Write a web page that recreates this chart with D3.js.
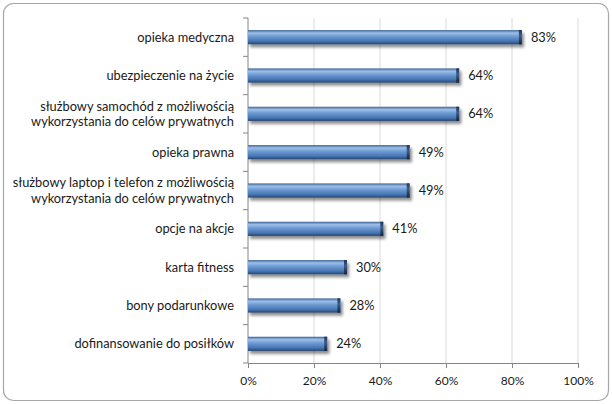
<!DOCTYPE html>
<html>
<head>
<meta charset="utf-8">
<script src="https://cdn.jsdelivr.net/npm/d3@7"></script>
<style>
  body { margin: 0; background: #fff; }
  text { font-family: Lato, "Open Sans", sans-serif; fill: #1a1a1a; }
</style>
</head>
<body>
<div id="chart"></div>
<script>
// data
const categories = [
    ["opieka medyczna"],
    ["ubezpieczenie na życie"],
    ["służbowy samochód z możliwością", "wykorzystania do celów prywatnych"],
    ["opieka prawna"],
    ["służbowy laptop i telefon z możliwością", "wykorzystania do celów prywatnych"],
    ["opcje na akcje"],
    ["karta fitness"],
    ["bony podarunkowe"],
    ["dofinansowanie do posiłków"]
];
const values = [83, 64, 64, 49, 49, 41, 30, 28, 24];
const xTicks = [0, 20, 40, 60, 80, 100];

const W = 612, H = 404;
const margin = {top: 18, right: 34, bottom: 41, left: 248};
const width = W - margin.left - margin.right;
const height = H - margin.top - margin.bottom;

const svg = d3.select("#chart").append("svg")
    .attr("width", W)
    .attr("height", H);

// gradient + shadow for the bars
const defs = svg.append("defs");
const grad = defs.append("linearGradient")
    .attr("id", "barGrad")
    .attr("x1", 0).attr("y1", 0).attr("x2", 0).attr("y2", 1);
grad.append("stop").attr("offset", "0%").attr("stop-color", "#3b6497");
grad.append("stop").attr("offset", "20%").attr("stop-color", "#9dbfe8");
grad.append("stop").attr("offset", "45%").attr("stop-color", "#6d9ad3");
grad.append("stop").attr("offset", "80%").attr("stop-color", "#4473b0");
grad.append("stop").attr("offset", "100%").attr("stop-color", "#27446c");

const capGrad = defs.append("linearGradient")
    .attr("id", "capGrad")
    .attr("x1", 0).attr("y1", 0).attr("x2", 0).attr("y2", 1);
capGrad.append("stop").attr("offset", "0%").attr("stop-color", "#1f3552");
capGrad.append("stop").attr("offset", "40%").attr("stop-color", "#3b5e8c");
capGrad.append("stop").attr("offset", "100%").attr("stop-color", "#15263d");

const shadow = defs.append("filter")
    .attr("id", "shadow")
    .attr("x", "-10%").attr("y", "-50%")
    .attr("width", "130%").attr("height", "250%");
shadow.append("feGaussianBlur").attr("in", "SourceAlpha").attr("stdDeviation", 1.8);
shadow.append("feOffset").attr("dx", 2).attr("dy", 3).attr("result", "off");
shadow.append("feComponentTransfer")
    .append("feFuncA").attr("type", "linear").attr("slope", 0.45);
const merge = shadow.append("feMerge");
merge.append("feMergeNode");
merge.append("feMergeNode").attr("in", "SourceGraphic");

// outer rounded frame
svg.append("rect")
    .attr("x", 3.5).attr("y", 3.5)
    .attr("width", W - 7).attr("height", H - 7)
    .attr("rx", 10).attr("ry", 10)
    .attr("fill", "#fff")
    .attr("stroke", "#a6a6a6")
    .attr("stroke-width", 1.2);

const g = svg.append("g")
    .attr("transform", `translate(${margin.left},${margin.top})`);

// scales
const x = d3.scaleLinear().domain([0, 100]).range([0, width]);
const y = d3.scaleBand()
    .domain(d3.range(categories.length))
    .range([0, height])
    .paddingInner(0.63)
    .paddingOuter(0.315);

// gridlines
g.selectAll(".grid")
    .data(xTicks.slice(1))
    .enter().append("line")
    .attr("class", "grid")
    .attr("x1", d => x(d)).attr("x2", d => x(d))
    .attr("y1", 0).attr("y2", height)
    .attr("stroke", "#d9d9d9")
    .attr("stroke-width", 1);

// x axis
const xAxis = d3.axisBottom(x)
    .tickValues(xTicks)
    .tickFormat(d => d + "%")
    .tickSize(5)
    .tickPadding(8);

const xg = g.append("g")
    .attr("transform", `translate(0,${height})`)
    .call(xAxis);
xg.select(".domain").attr("stroke", "#868686");
xg.selectAll(".tick line").attr("stroke", "#868686");
xg.selectAll(".tick text")
    .style("font-size", "12px")
    .style("font-family", "Lato, sans-serif")
    .attr("fill", "#1a1a1a");

// y axis (category ticks between bands)
const step = height / categories.length;
g.append("line")
    .attr("x1", 0).attr("x2", 0)
    .attr("y1", 0).attr("y2", height)
    .attr("stroke", "#868686");
g.selectAll(".ytick")
    .data(d3.range(categories.length + 1))
    .enter().append("line")
    .attr("class", "ytick")
    .attr("x1", -5).attr("x2", 0)
    .attr("y1", d => d * step).attr("y2", d => d * step)
    .attr("stroke", "#868686");

// category labels
const labels = g.selectAll(".cat")
    .data(categories)
    .enter().append("text")
    .attr("class", "cat")
    .attr("text-anchor", "end")
    .attr("x", -14)
    .attr("y", (d, i) => y(i) + y.bandwidth() / 2)
    .style("font-size", "12.8px");

labels.each(function(lines) {
    const t = d3.select(this);
    const offset = -(lines.length - 1) * 0.6;
    lines.forEach((line, k) => {
        t.append("tspan")
            .attr("x", -14)
            .attr("dy", k === 0 ? (offset + 0.35) + "em" : "1.2em")
            .text(line);
    });
});

// bars
const bars = g.selectAll(".bar")
    .data(values)
    .enter().append("g")
    .attr("class", "bar")
    .attr("filter", "url(#shadow)");

bars.append("rect")
    .attr("x", 0)
    .attr("y", (d, i) => y(i))
    .attr("width", d => x(d))
    .attr("height", y.bandwidth())
    .attr("fill", "url(#barGrad)");

bars.append("rect")
    .attr("x", d => x(d) - 3)
    .attr("y", (d, i) => y(i))
    .attr("width", 3)
    .attr("height", y.bandwidth())
    .attr("fill", "url(#capGrad)");

// value labels
g.selectAll(".val")
    .data(values)
    .enter().append("text")
    .attr("class", "val")
    .attr("x", d => x(d) + 9)
    .attr("y", (d, i) => y(i) + y.bandwidth() / 2)
    .attr("dy", "0.35em")
    .style("font-size", "12.8px")
    .text(d => d + "%");
</script>
</body>
</html>
